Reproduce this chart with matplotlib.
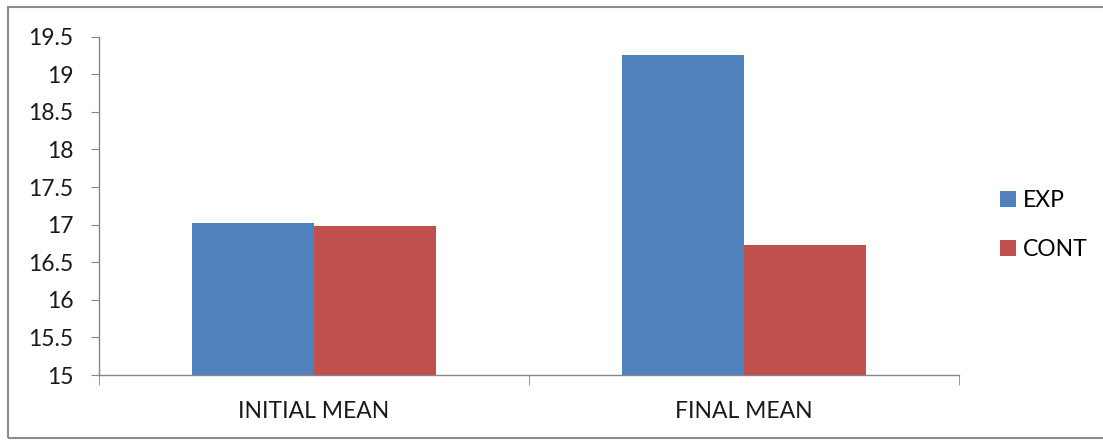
import matplotlib.pyplot as plt
import numpy as np
from matplotlib.patches import Rectangle

plt.rcParams['font.family'] = ['Lato', 'DejaVu Sans']

# data
categories = ["INITIAL MEAN", "FINAL MEAN"]
exp_means = [17.02, 19.26]
cont_means = [16.98, 16.73]
series_names = ["EXP", "CONT"]

fig = plt.figure(figsize=(11.03, 4.4), dpi=100)
ax = fig.add_axes([0.0895, 0.1477, 0.78, 0.7689])

x = np.arange(len(categories))
w = 0.283
ax.bar(x - w/2, exp_means, w, bottom=0, color="#4F81BD", label=series_names[0])
ax.bar(x + w/2, cont_means, w, bottom=0, color="#C0504D", label=series_names[1])

ax.set_ylim(15, 19.5)
ax.set_xlim(-0.5, 1.5)
ax.set_yticks(np.arange(15, 19.51, 0.5))
ax.set_yticklabels(["15", "15.5", "16", "16.5", "17", "17.5", "18", "18.5", "19", "19.5"])
ax.set_xticks(x)
ax.set_xticklabels(categories)
ax.set_xticks([-0.5, 0.5, 1.5], minor=True)

axis_col = "#868686"
for s in ["top", "right"]:
    ax.spines[s].set_visible(False)
for s in ["left", "bottom"]:
    ax.spines[s].set_color(axis_col)
    ax.spines[s].set_linewidth(1.0)

ax.tick_params(axis="y", length=6, color=axis_col, pad=12, labelsize=16.5, labelcolor="#1a1a1a")
ax.tick_params(axis="x", which="major", length=0, pad=19, labelsize=16.5, labelcolor="#1a1a1a")
ax.tick_params(axis="x", which="minor", length=7, color=axis_col)

ax.legend(loc="center left", bbox_to_anchor=(0.9066, 0.4886), bbox_transform=fig.transFigure,
          frameon=False, fontsize=16.5, handlelength=0.7, handleheight=0.7,
          handletextpad=0.32, labelspacing=1.2, borderaxespad=0, borderpad=0)

# outer chart border
fig.patches.append(Rectangle((8/1103, 2/440), 1.2, 1 - 9/440, transform=fig.transFigure,
                             fill=False, edgecolor="#8c8c8c", linewidth=1.5, clip_on=False))

plt.savefig("out.png", dpi=100)
